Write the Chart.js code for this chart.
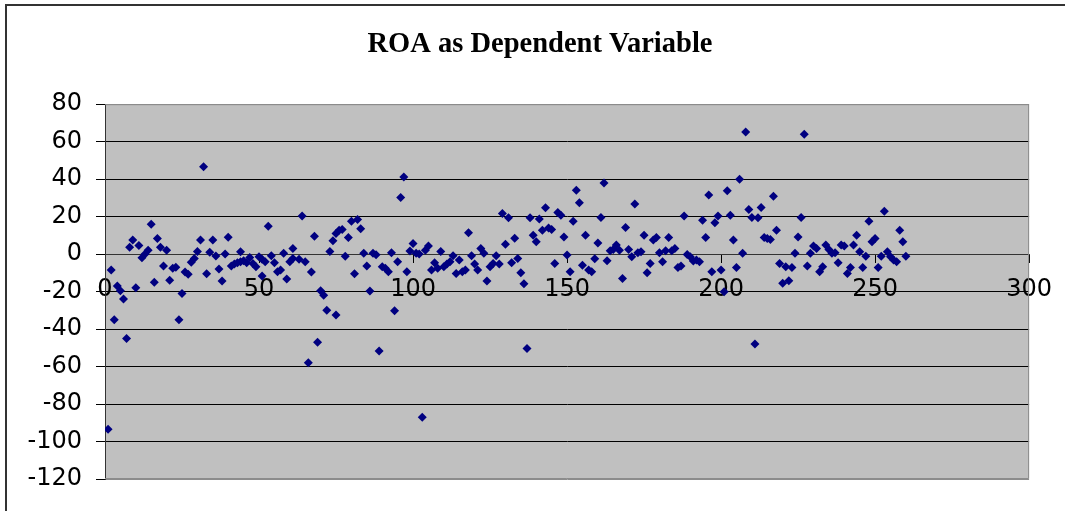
<!DOCTYPE html>
<html>
<head>
<meta charset="utf-8">
<script src="https://cdn.jsdelivr.net/npm/chart.js@4"></script>
<style>
  html, body { margin: 0; padding: 0; background: #fff; overflow: hidden; }
  #wrap { position: relative; width: 1065px; height: 511px; }
  #frame {
    position: absolute; left: 5px; top: 4px; width: 1100px; height: 600px;
    border-left: 2px solid #333; border-top: 2px solid #333; pointer-events: none;
  }
</style>
</head>
<body>
<div id="wrap">
  <canvas id="roaChart" width="1065" height="511"></canvas>
  <div id="frame"></div>
</div>
<script>
// ROA as Dependent Variable — scatter of ROA by observation
const TITLE = "ROA as Dependent Variable";

const obsNo = [
  1, 2, 3, 4, 5, 6, 7, 8, 9, 10, 11, 12, 13, 14, 15, 16, 17, 18, 19, 20,
  21, 22, 23, 24, 25, 26, 27, 28, 29, 30, 31, 32, 33, 34, 35, 36, 37, 38, 39, 40,
  41, 42, 43, 44, 44, 45, 46, 47, 48, 49, 50, 51, 51, 52, 53, 54, 55, 56, 57, 58,
  59, 60, 61, 61, 63, 64, 65, 66, 67, 68, 69, 70, 71, 72, 73, 74, 75, 75, 76, 77,
  78, 79, 80, 81, 82, 83, 84, 85, 86, 87, 88, 89, 90, 91, 92, 93, 94, 95, 96, 97,
  98, 99, 100, 101, 102, 103, 104, 105, 106, 107, 108, 109, 110, 111, 112, 113, 114, 115, 116, 117,
  118, 119, 120, 121, 122, 123, 124, 125, 126, 127, 128, 129, 130, 131, 132, 133, 134, 135, 136, 137,
  138, 139, 140, 141, 142, 143, 144, 145, 146, 147, 148, 149, 150, 151, 152, 153, 154, 155, 156, 157,
  158, 159, 160, 161, 162, 163, 164, 165, 166, 167, 168, 169, 170, 171, 172, 173, 174, 175, 176, 177,
  178, 179, 180, 181, 182, 183, 184, 185, 186, 187, 188, 189, 190, 191, 192, 193, 194, 195, 196, 197,
  198, 199, 200, 201, 202, 203, 204, 205, 206, 207, 208, 209, 210, 211, 212, 213, 214, 215, 216, 217,
  218, 219, 220, 221, 222, 223, 224, 225, 226, 227, 228, 229, 230, 231, 232, 233, 234, 235, 236, 237,
  238, 239, 240, 241, 242, 243, 244, 245, 246, 247, 248, 249, 250, 251, 252, 253, 254, 255, 256, 257,
  258, 259, 260
];
const roa = [
  -93.5, -8.5, -35, -17, -19.6, -24, -45, 3.6, 7.5, -18, 4.6, -2, 0, 2, 16, -15, 8.4, 3.6, -6.4, 2,
  -14, -7.6, -7, -35, -21, -9.6, -10.7, -4.4, -2.3, 1.4, 7.5, 46.6, -10.5, 1, 7.5, -1, -8, -14.4, 0, 9,
  -6.4, -5.3, -4.6, 1.2, -4.1, -3.6, -4.6, -1.8, -5, -6.8, -1.4, -2.8, -11.7, -4.1, 14.9, -0.9, -4.6, -9.4, -8.5, 0.4,
  -13.3, -4.1, 3, -2.3, -2.8, 20.3, -4.1, -58, -9.6, 9.6, -47, -19.6, -21.9, -29.9, 1.4, 7.1, -32.5, 11, 12.8, 13.2,
  -1.1, 8.9, 17.6, -10.5, 18.5, 13.5, 0.4, -6.4, -19.7, 0.4, -0.4, -51.7, -6.8, -7.6, -9.4, 0.7, -30.2, -4.1, 30.2, 41.2,
  -9.4, 1.6, 5.7, 0.4, 0, -87, 2.1, 4.3, -8.5, -4.6, -7.6, 1.4, -6.8, -5.3, -4.1, -0.9, -10.3, -3.2, -9.4, -8.5,
  11.4, -0.9, -5.3, -8.5, 3, 0.4, -14.4, -6.8, -5, -0.9, -5.3, 21.7, 5.3, 19.4, -4.6, 8.5, -2.3, -10, -15.8, -50.3,
  19.4, 10.1, 6.6, 18.7, 12.8, 24.7, 14, 13.2, -5, 22.2, 20.8, 9.2, -0.5, -9.4, 17.6, 34.1, 27.4, -5.9, 10.1, -8.5,
  -9.4, -2.5, 6, 19.6, 38, -3.6, 1.8, 2.5, 4.8, 2.1, -13, 14.2, 2.5, -1.4, 26.7, 0.7, 1.2, 10.1, -10, -5,
  7.5, 8.9, 0.7, -4.1, 1.8, 8.9, 1.8, 3, -7.1, -6.4, 20.3, -0.2, -1.4, -3.7, -3.2, -4.1, 18.1, 8.9, 31.5, -9.4,
  16.7, 20.3, -8.5, -20.1, 33.8, 20.8, 7.5, -7.1, 40, 0.4, 65.2, 23.8, 19.6, -48, 19.4, 24.9, 8.9, 8.4, 7.8, 30.9,
  12.8, -5, -15.6, -6.8, -14.2, -7.1, 0.4, 9.2, 19.6, 64, -6.4, 0.4, 4.3, 3, -9.4, -6.8, 4.8, 2.5, 0.4, 0.7,
  -4.6, 4.8, 4.3, -10.3, -7.1, 4.8, 10.1, 1.2, -7.1, -1.1, 17.6, 6.6, 8.4, -7.1, -1.1, 22.9, 1.2, -1.4, -3.2, -4.1,
  12.8, 6.6, -1.1
];

// axis ticks
const xTicks = [0, 50, 100, 150, 200, 250, 300];
const yTicks = [-120, -100, -80, -60, -40, -20, 0, 20, 40, 60, 80];

const points = obsNo.map((x, i) => ({ x, y: roa[i] }));

// grey plot area + grey frame on top/right/bottom (Excel style)
const plotArea = {
  id: "plotArea",
  afterLayout(chart) {
    // let the y labels spill into the left padding (v4 clips them to the axis box)
    const y = chart.scales.y;
    y.left = 0;
    y.width = y.right;
  },
  beforeDraw(chart) {
    const { ctx, chartArea: a } = chart;
    ctx.save();
    ctx.fillStyle = "#c0c0c0";
    ctx.fillRect(a.left, a.top, a.right - a.left, a.bottom - a.top);
    ctx.restore();
  },
  beforeDatasetsDraw(chart) {
    const { ctx, chartArea: a } = chart;
    ctx.save();
    ctx.strokeStyle = "#8c8c8c";
    ctx.lineWidth = 1;
    ctx.beginPath();
    ctx.moveTo(a.left, a.top + 0.5);
    ctx.lineTo(a.right - 0.5, a.top + 0.5);
    ctx.lineTo(a.right - 0.5, a.bottom - 0.5);
    ctx.lineTo(a.left, a.bottom - 0.5);
    ctx.stroke();
    ctx.restore();
  }
};

const ctx = document.getElementById("roaChart").getContext("2d");
new Chart(ctx, {
  type: "scatter",
  data: {
    datasets: [{
      label: "ROA",
      data: points,
      pointStyle: "rectRot",
      pointRadius: 4.5,
      pointBorderWidth: 0,
      backgroundColor: "#000080",
      borderColor: "#000080",
    }]
  },
  options: {
    responsive: false,
    animation: false,
    devicePixelRatio: 1,
    // left/right padding keep the title centred where Excel put it
    layout: { padding: { left: 47, top: 0, right: 32, bottom: 32 } },
    plugins: {
      legend: { display: false },
      tooltip: { enabled: false },
      title: {
        display: true,
        text: TITLE,
        color: "#000",
        font: { family: "'Liberation Serif', 'Times New Roman', serif", size: 28.5, weight: "bold", lineHeight: 1.2 },
        padding: { top: 28, bottom: 42 }
      }
    },
    scales: {
      x: {
        type: "linear",
        min: xTicks[0],
        max: xTicks[xTicks.length - 1],
        position: { y: 0 },
        afterBuildTicks: (s) => { s.ticks = xTicks.map(v => ({ value: v })); },
        border: { display: true, color: "#333", width: 1 },
        grid: { drawOnChartArea: false, drawTicks: true, tickLength: 8, color: "#000" },
        ticks: {
          color: "#000",
          padding: 13,
          maxRotation: 0,
          autoSkip: false,
          font: { family: "'DejaVu Sans', sans-serif", size: 24 }
        }
      },
      y: {
        type: "linear",
        min: yTicks[0],
        max: yTicks[yTicks.length - 1],
        afterBuildTicks: (s) => { s.ticks = yTicks.map(v => ({ value: v })); },
        afterFit: (s) => { s.width = 58; },
        border: { display: true, color: "#333", width: 1 },
        grid: {
          drawTicks: true,
          tickLength: 9,
          tickColor: "#000",
          color: (c) => (c.tick && (c.tick.value === 80 || c.tick.value === -120)) ? "#8c8c8c" : "#000",
          lineWidth: 1
        },
        ticks: {
          color: "#000",
          padding: 14,
          autoSkip: false,
          font: { family: "'DejaVu Sans', sans-serif", size: 24 }
        }
      }
    }
  },
  plugins: [plotArea]
});
</script>
</body>
</html>
